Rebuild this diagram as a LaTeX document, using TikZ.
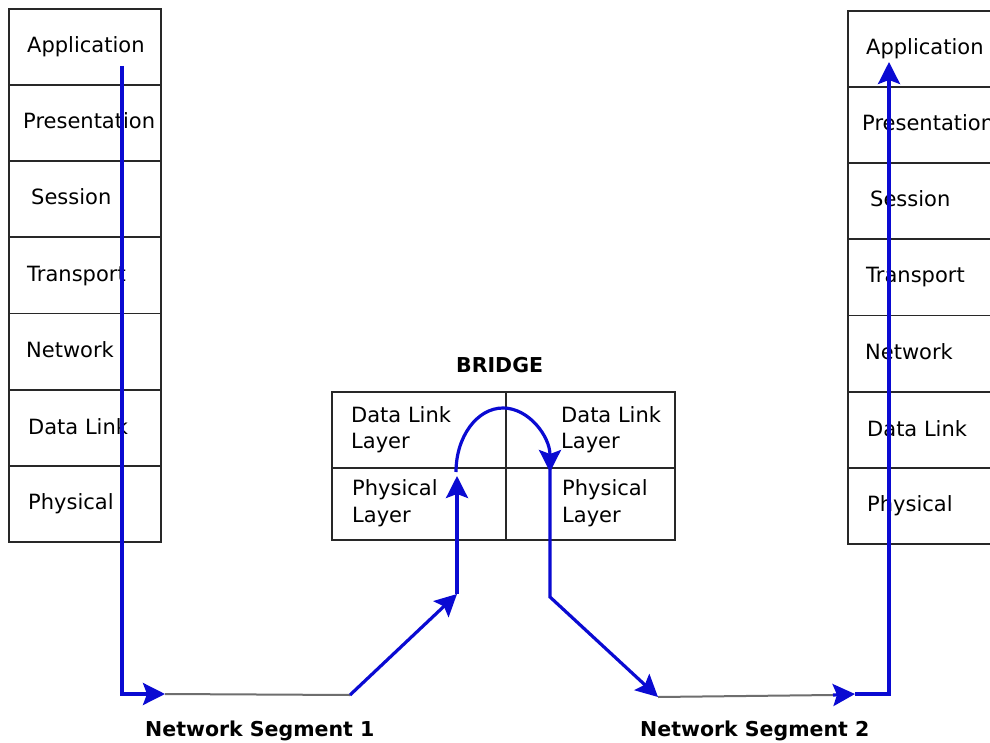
\documentclass[tikz,border=0pt]{standalone}
\usepackage{fontspec}
\setmainfont{DejaVu Sans}
\usetikzlibrary{arrows.meta}
\definecolor{flowblue}{RGB}{10,10,210}
\definecolor{boxline}{RGB}{40,40,40}
\definecolor{segline}{RGB}{110,110,110}
\begin{document}
\begin{tikzpicture}[x=1pt,y=-1pt,
  layerbox/.style={draw=boxline,line width=1.8pt,minimum width=152pt,minimum height=76.14pt,inner sep=0pt,anchor=north west},
  cellbox/.style={draw=boxline,line width=1.8pt,inner sep=0pt,anchor=north west},
  lbl/.style={inner sep=0pt,anchor=base west,font=\fontsize{21}{26}\selectfont},
  lbl2/.style={inner sep=0pt,anchor=west,align=left,font=\fontsize{21}{26.5}\selectfont},
  title/.style={inner sep=0pt,anchor=base west,font=\fontsize{20.5}{26}\selectfont\bfseries},
  flow/.style={draw=flowblue,line width=3.2pt,line join=miter},
  tip/.style={-{Stealth[length=22pt,width=22pt,inset=4pt]}},
  seg/.style={draw=segline,line width=2pt}]
\useasboundingbox (0,0) rectangle (990,743);
\clip (0,0) rectangle (990,743);
\fill[white] (0,0) rectangle (990,743);

% left stack
\foreach \i/\n in {0/LA,1/LB,2/LC,3/LD,4/LE,5/LF,6/LG}{
  \node[layerbox] (\n) at (8,{8+76.14*\i}) {};
}
% right stack
\foreach \i/\n in {0/RA,1/RB,2/RC,3/RD,4/RE,5/RF,6/RG}{
  \node[layerbox,minimum width=160pt] (\n) at (847,{10+76.14*\i}) {};
}
\node[lbl] (tLA) at (27,53) {Application};
\node[lbl] (tLB) at (23,129) {Presentation};
\node[lbl] (tLC) at (31,205) {Session};
\node[lbl] (tLD) at (27,281) {Transport};
\node[lbl] (tLE) at (26,357) {Network};
\node[lbl] (tLF) at (28,434) {Data Link};
\node[lbl] (tLG) at (28,509) {Physical};

\node[lbl] (tRA) at (866,55) {Application};
\node[lbl] (tRB) at (862,131) {Presentation};
\node[lbl] (tRC) at (870,207) {Session};
\node[lbl] (tRD) at (866,283) {Transport};
\node[lbl] (tRE) at (865,359) {Network};
\node[lbl] (tRF) at (867,436) {Data Link};
\node[lbl] (tRG) at (867,511) {Physical};

% bridge
\node[title] (bridge) at (456,372) {BRIDGE};
\node[cellbox,minimum width=174pt,minimum height=76pt] (BDL) at (331,391) {};
\node[cellbox,minimum width=169pt,minimum height=76pt] (BDR) at (505,391) {};
\node[cellbox,minimum width=174pt,minimum height=72pt] (BPL) at (331,467) {};
\node[cellbox,minimum width=169pt,minimum height=72pt] (BPR) at (505,467) {};
\node[lbl2] (tBDL) at (351,429.6) {Data Link\\Layer};
\node[lbl2] (tBDR) at (561,429.6) {Data Link\\Layer};
\node[lbl2] (tBPL) at (352,503) {Physical\\Layer};
\node[lbl2] (tBPR) at (562,503) {Physical\\Layer};

% segment labels
\node[title] (seg1) at (145,736) {Network Segment 1};
\node[title] (seg2) at (640,736) {Network Segment 2};

% path coordinates
\coordinate (p0) at (122,66);
\coordinate (p1) at (165,694);
\coordinate (p2) at (350,695);
\coordinate (p3) at (457,594);
\coordinate (p4) at (457,476);
\coordinate (a0) at (456,472);
\coordinate (p5) at (550,465);
\coordinate (p6) at (550,597);
\coordinate (p7) at (658,697);
\coordinate (p8) at (833,695);
\coordinate (p9) at (855,694);
\coordinate (p10) at (889,694);
\coordinate (p11) at (889,62);

\draw[flow,tip] (p0) |- (p1);
\draw[seg] (p1) -- (p2);
\draw[flow,tip] (p2) -- (p3);
\draw[flow,tip] (p3) -- (p4);
\draw[flow,tip] (a0) arc[start angle=180,end angle=360,x radius=47,y radius=64];
\draw[flow,tip] (p5) -- (p6) -- (p7);
\draw[seg] (p7) -- (p8);
\draw[flow,tip] (p8) -- (p9);
\draw[flow,tip] (p9) -- (p10) -- (p11);
\end{tikzpicture}
\end{document}
